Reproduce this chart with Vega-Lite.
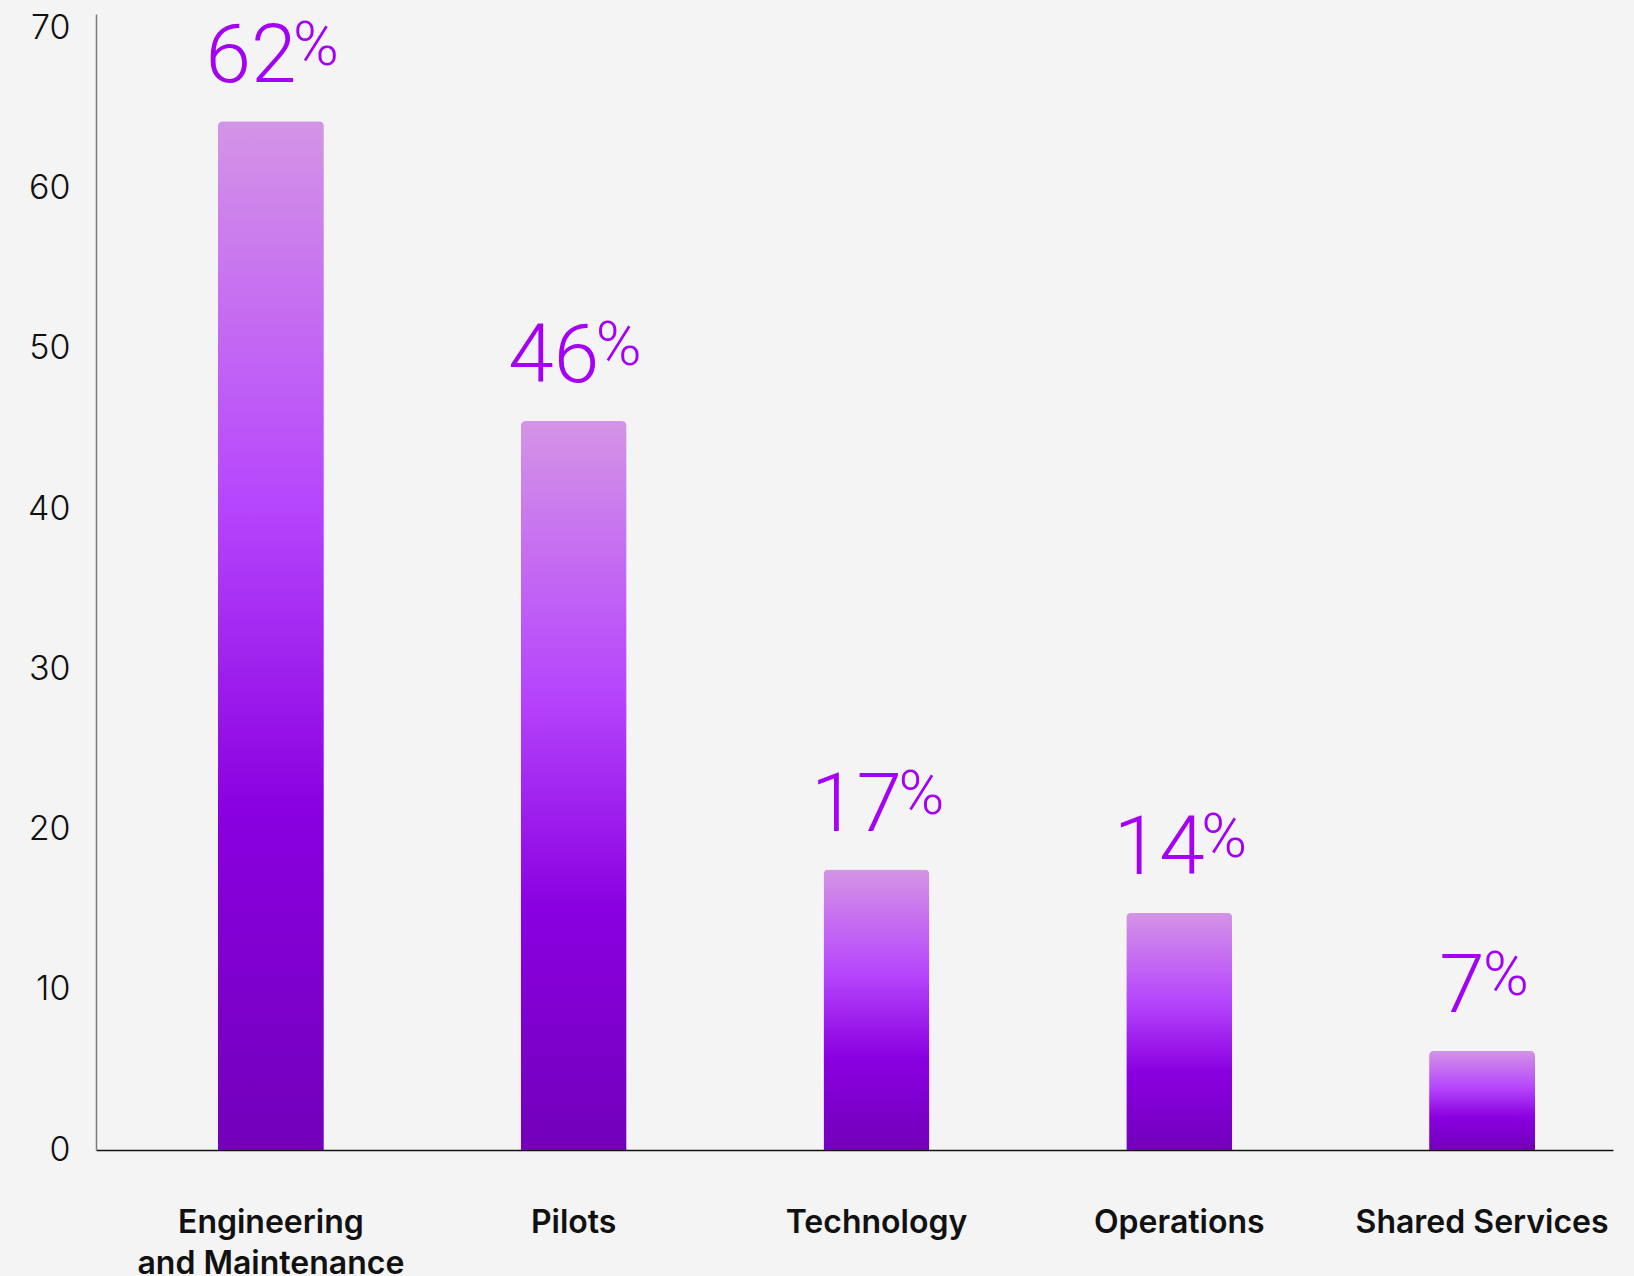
{
  "$schema": "https://vega.github.io/schema/vega-lite/v6.json",
  "autosize": "none",
  "padding": {"left": 96, "top": 14, "right": 21, "bottom": 126},
  "width": 1517,
  "height": 1136,
  "background": "#f4f4f4",
  "config": {
    "view": {"stroke": null},
    "font": "Inter"
  },
  "data": {
    "values": [
      {"category": "Engineering\nand Maintenance", "value": 64.2, "label": 62},
      {"category": "Pilots", "value": 45.5, "label": 46},
      {"category": "Technology", "value": 17.5, "label": 17},
      {"category": "Operations", "value": 14.8, "label": 14},
      {"category": "Shared Services", "value": 6.2, "label": 7}
    ]
  },
  "encoding": {
    "x": {
      "field": "category",
      "type": "nominal",
      "sort": null,
      "scale": {"paddingInner": 0.65, "paddingOuter": 0.33, "align": 0.61},
      "axis": {
        "title": null,
        "labelAngle": 0,
        "labelExpr": "split(datum.label, '\\n')",
        "labelFont": "Inter",
        "labelFontSize": 32,
        "labelFontWeight": 600,
        "labelColor": "#111111",
        "labelLineHeight": 41,
        "labelPadding": 57,
        "labelLimit": 0,
        "ticks": false,
        "tickSize": 0,
        "domainColor": "#111111",
        "domainWidth": 1.5,
        "grid": false
      }
    },
    "y": {
      "field": "value",
      "type": "quantitative",
      "scale": {"domain": [0, 70.9], "nice": false},
      "axis": {
        "title": null,
        "values": [0, 10, 20, 30, 40, 50, 60, 70],
        "labelFont": "Inter",
        "labelFontSize": 34,
        "labelFontWeight": 300,
        "labelColor": "#111111",
        "labelPadding": 26,
        "ticks": false,
        "tickSize": 0,
        "domainColor": "#7a7a7a",
        "domainWidth": 1.5,
        "grid": false
      }
    }
  },
  "layer": [
    {
      "mark": {
        "type": "bar",
        "cornerRadiusTopLeft": 5,
        "cornerRadiusTopRight": 5,
        "color": {
          "gradient": "linear",
          "x1": 0, "y1": 0, "x2": 0, "y2": 1,
          "stops": [
            {"offset": 0, "color": "#d494e6"},
            {"offset": 0.37, "color": "#b646fc"},
            {"offset": 0.67, "color": "#8a00e0"},
            {"offset": 1, "color": "#7200ba"}
          ]
        }
      }
    },
    {
      "mark": {"type": "text", "font": "Roboto", "fontWeight": 300, "fontSize": 82, "color": "#a300f5", "align": "center", "baseline": "alphabetic", "dx": -20, "dy": -39},
      "encoding": {"text": {"field": "label", "type": "quantitative"}}
    },
    {
      "transform": [{"filter": "datum.label >= 10"}],
      "mark": {"type": "text", "font": "Roboto", "fontWeight": 300, "fontSize": 62, "color": "#a300f5", "align": "left", "baseline": "alphabetic", "dx": 22, "dy": -56, "text": "%"}
    },
    {
      "transform": [{"filter": "datum.label < 10"}],
      "mark": {"type": "text", "font": "Roboto", "fontWeight": 300, "fontSize": 62, "color": "#a300f5", "align": "left", "baseline": "alphabetic", "dx": 1, "dy": -56, "text": "%"}
    }
  ]
}
